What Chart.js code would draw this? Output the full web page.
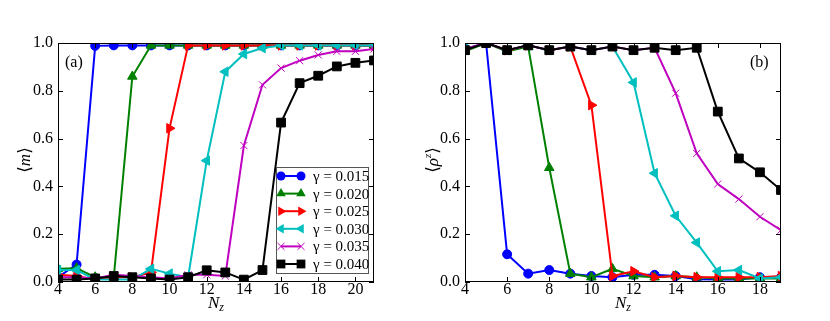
<!DOCTYPE html>
<html>
<head>
<meta charset="utf-8">
<script src="https://cdn.jsdelivr.net/npm/chart.js@4.4.1/dist/chart.umd.min.js"></script>
<style>
body{margin:0;background:#fff;}
#wrap{position:relative;width:830px;height:321px;}
.box{position:absolute;top:0;width:415px;height:321px;}
</style>
</head>
<body>
<div id="wrap">
<div class="box" style="left:0"><canvas id="chartA"></canvas></div>
<div class="box" style="left:415px"><canvas id="chartB"></canvas></div>
</div>
<script>
// data
const gammas = ['0.015', '0.020', '0.025', '0.030', '0.035', '0.040'];
const nzLeft = [4, 5, 6, 7, 8, 9, 10, 11, 12, 13, 14, 15, 16, 17, 18, 19, 20, 21];
const nzRight = [4, 5, 6, 7, 8, 9, 10, 11, 12, 13, 14, 15, 16, 17, 18, 19];
const xTicksLeft = [4, 6, 8, 10, 12, 14, 16, 18, 20];
const xTicksRight = [4, 6, 8, 10, 12, 14, 16, 18];
const yTicks = [0, 0.2, 0.4, 0.6, 0.8, 1.0];

const m015 = [0.02, 0.073, 0.988, 0.99, 0.99, 0.99, 0.99, 0.99, 0.99, 0.99, 0.99, 0.99, 0.99, 0.99, 0.99, 0.99, 0.99, 0.99];
const m020 = [0.055, 0.058, 0.02, 0.02, 0.86, 0.99, 0.99, 0.99, 0.99, 0.99, 0.99, 0.99, 0.99, 0.99, 0.99, 0.99, 0.99, 0.99];
const m025 = [0.03, 0.025, 0.01, 0.02, 0.02, 0.04, 0.643, 0.99, 0.99, 0.99, 0.99, 0.99, 0.99, 0.99, 0.99, 0.99, 0.99, 0.99];
const m030 = [0.05, 0.05, 0.01, 0.01, 0.01, 0.055, 0.035, 0.02, 0.508, 0.88, 0.954, 0.979, 0.99, 0.99, 0.99, 0.99, 0.99, 0.99];
const m035 = [0.02, 0.02, 0.015, 0.03, 0.025, 0.02, 0.015, 0.03, 0.03, 0.025, 0.571, 0.825, 0.895, 0.926, 0.95, 0.965, 0.965, 0.975];
const m040 = [0.01, 0.01, 0.015, 0.025, 0.02, 0.015, 0.01, 0.02, 0.049, 0.04, 0.01, 0.05, 0.667, 0.832, 0.863, 0.902, 0.917, 0.927];

const r015 = [0.975, 1.0, 0.116, 0.035, 0.05, 0.035, 0.025, 0.02, 0.03, 0.03, 0.025, 0.012, 0.01, 0.01, 0.02, 0.02];
const r020 = [0.965, 1.0, 0.965, 0.985, 0.478, 0.035, 0.02, 0.055, 0.025, 0.02, 0.025, 0.02, 0.015, 0.015, 0.015, 0.015];
const r025 = [0.975, 1.0, 0.97, 0.99, 0.97, 0.985, 0.74, 0.025, 0.045, 0.02, 0.025, 0.02, 0.02, 0.02, 0.02, 0.025];
const r030 = [0.975, 1.0, 0.97, 0.99, 0.97, 0.985, 0.97, 0.985, 0.835, 0.455, 0.277, 0.165, 0.045, 0.05, 0.015, 0.02];
const r035 = [0.975, 1.0, 0.97, 0.99, 0.97, 0.985, 0.97, 0.985, 0.97, 0.98, 0.79, 0.538, 0.41, 0.347, 0.273, 0.217];
const r040 = [0.97, 1.0, 0.97, 0.99, 0.97, 0.985, 0.97, 0.985, 0.97, 0.98, 0.97, 0.98, 0.713, 0.517, 0.459, 0.385];

const colors = ['#0000ff', '#008000', '#ff0000', '#00bfbf', '#bf00bf', '#000000'];
const styles = [
  {pointStyle: 'circle', radius: 4.5, rotation: 0, bw: 1},
  {pointStyle: 'triangle', radius: 5.5, rotation: 0, bw: 1},
  {pointStyle: 'triangle', radius: 5.5, rotation: 90, bw: 1},
  {pointStyle: 'triangle', radius: 5.5, rotation: -90, bw: 1},
  {pointStyle: 'crossRot', radius: 5, rotation: 0, bw: 1},
  {pointStyle: 'rect', radius: 6.2, rotation: 0, bw: 1}
];

const serif = '"Liberation Serif", "DejaVu Serif", serif';

function makeSets(xs, series) {
  return series.map(function(vals, i) {
    return {
      label: 'γ = ' + gammas[i],
      data: vals.map(function(v, k) { return {x: xs[k], y: v}; }),
      borderColor: colors[i],
      backgroundColor: colors[i],
      pointBackgroundColor: colors[i],
      pointBorderColor: colors[i],
      borderWidth: 2,
      pointStyle: styles[i].pointStyle,
      pointRadius: styles[i].radius,
      pointRotation: styles[i].rotation,
      pointBorderWidth: styles[i].bw,
      tension: 0,
      clip: 0,
      order: 5 - i
    };
  });
}

function drawMarker(ctx, i, x, y) {
  const s = styles[i];
  const r = s.radius;
  ctx.save();
  ctx.fillStyle = colors[i];
  ctx.strokeStyle = colors[i];
  ctx.lineWidth = s.bw;
  ctx.beginPath();
  if (s.pointStyle === 'circle') {
    ctx.arc(x, y, r, 0, Math.PI * 2);
    ctx.fill();
  } else if (s.pointStyle === 'triangle') {
    let rad = s.rotation * Math.PI / 180;
    for (let k = 0; k < 3; k++) {
      const px = x + Math.sin(rad) * r, py = y - Math.cos(rad) * r;
      if (k === 0) ctx.moveTo(px, py); else ctx.lineTo(px, py);
      rad += 2 * Math.PI / 3;
    }
    ctx.closePath();
    ctx.fill();
  } else if (s.pointStyle === 'crossRot') {
    const d = r * Math.SQRT1_2;
    ctx.moveTo(x - d, y - d); ctx.lineTo(x + d, y + d);
    ctx.moveTo(x - d, y + d); ctx.lineTo(x + d, y - d);
    ctx.stroke();
  } else {
    const d = r * Math.SQRT1_2;
    ctx.rect(x - d, y - d, 2 * d, 2 * d);
    ctx.fill();
  }
  ctx.restore();
}

function drawPieces(ctx, pieces, cx, cy, rotate) {
  ctx.save();
  ctx.translate(cx, cy);
  if (rotate) ctx.rotate(-Math.PI / 2);
  ctx.fillStyle = '#000';
  ctx.textBaseline = 'middle';
  ctx.textAlign = 'left';
  let total = 0;
  pieces.forEach(function(p) { ctx.font = p[1]; total += ctx.measureText(p[0]).width; });
  let x = -total / 2;
  pieces.forEach(function(p) {
    ctx.font = p[1];
    ctx.fillText(p[0], x, p[2] || 0);
    x += ctx.measureText(p[0]).width;
  });
  ctx.restore();
}

const framePlugin = {
  id: 'frame',
  afterDraw(chart, args, opts) {
    const ctx = chart.ctx;
    const a = chart.chartArea;
    const xs = chart.scales.x, ys = chart.scales.y;
    ctx.save();
    ctx.strokeStyle = '#000';
    ctx.lineWidth = 1;
    ctx.strokeRect(a.left + 0.5, a.top + 0.5, a.right - a.left - 1, a.bottom - a.top - 1);
    ctx.beginPath();
    xs.ticks.forEach(function(t) {
      const px = Math.round(xs.getPixelForValue(t.value)) + 0.5;
      ctx.moveTo(px, a.bottom); ctx.lineTo(px, a.bottom - 5);
      ctx.moveTo(px, a.top); ctx.lineTo(px, a.top + 5);
    });
    ys.ticks.forEach(function(t) {
      const py = Math.round(ys.getPixelForValue(t.value)) + 0.5;
      ctx.moveTo(a.left, py); ctx.lineTo(a.left + 5, py);
      ctx.moveTo(a.right, py); ctx.lineTo(a.right - 5, py);
    });
    ctx.stroke();

    ctx.fillStyle = '#000';
    ctx.font = '16px ' + serif;
    ctx.textBaseline = 'middle';
    ctx.textAlign = 'left';
    ctx.fillText(opts.panel, opts.panelX, 63);

    drawPieces(ctx, [['N', 'italic 17px ' + serif, 0], ['z', 'italic 12px ' + serif, 4]], (a.left + a.right) / 2, 304, false);
    drawPieces(ctx, opts.yTitle, opts.yTitleX, 160, true);

    if (opts.legend) {
      const lx = 276, ly = 167, lw = 92, lh = 106;
      ctx.fillStyle = '#fff';
      ctx.fillRect(lx, ly, lw, lh);
      ctx.strokeStyle = '#555';
      ctx.strokeRect(lx + 0.5, ly + 0.5, lw, lh);
      gammas.forEach(function(g, i) {
        const yy = 176 + i * 17.6;
        ctx.strokeStyle = colors[i];
        ctx.lineWidth = 2;
        ctx.beginPath();
        ctx.moveTo(281, yy); ctx.lineTo(301, yy);
        ctx.stroke();
        drawMarker(ctx, i, 281, yy);
        drawMarker(ctx, i, 301, yy);
        ctx.fillStyle = '#000';
        ctx.font = '15px ' + serif;
        ctx.textBaseline = 'middle';
        ctx.fillText('γ = ' + g, 313, yy + 1);
      });
    }
    ctx.restore();
  }
};

function makeChart(id, xs, series, xMax, xTicks, yW, padRight, opts) {
  const ctx = document.getElementById(id).getContext('2d');
  return new Chart(ctx, {
    type: 'line',
    data: {datasets: makeSets(xs, series)},
    plugins: [framePlugin],
    options: {
      responsive: true,
      maintainAspectRatio: false,
      animation: false,
      layout: {padding: {left: 0, top: 43, right: padRight, bottom: 0}},
      plugins: {legend: {display: false}, tooltip: {enabled: false}, frame: opts},
      scales: {
        x: {
          type: 'linear', min: 4, max: xMax,
          afterBuildTicks: function(s) { s.ticks = xTicks.map(function(v) { return {value: v}; }); },
          afterFit: function(s) { s.height = 39; },
          grid: {display: false, drawTicks: false},
          border: {display: false},
          ticks: {padding: 0, color: '#000', font: {family: serif, size: 16, lineHeight: 1}, maxRotation: 0}
        },
        y: {
          min: 0, max: 1,
          afterBuildTicks: function(s) { s.ticks = yTicks.map(function(v) { return {value: v}; }); },
          afterFit: function(s) { s.width = yW; },
          grid: {display: false, drawTicks: false},
          border: {display: false},
          ticks: {padding: 5, color: '#000', font: {family: serif, size: 16},
            callback: function(v) { return Number(v).toFixed(1); }}
        }
      }
    }
  });
}

function loadCharts() {
  makeChart('chartA', nzLeft, [m015, m020, m025, m030, m035, m040], 21, xTicksLeft, 58, 41, {
    panel: '(a)', panelX: 65, yTitleX: 26, legend: true,
    yTitle: [['⟨', '17px ' + serif], ['m', 'italic 17px ' + serif], ['⟩', '17px ' + serif]]
  });
  makeChart('chartB', nzRight, [r015, r020, r025, r030, r035, r040], 19, xTicksRight, 50, 49, {
    panel: '(b)', panelX: 335, yTitleX: 19, legend: false,
    yTitle: [['⟨', '17px ' + serif], ['ρ', 'italic 17px ' + serif], ['z', 'italic 11px ' + serif, -6], ['⟩', '17px ' + serif]]
  });
}
document.addEventListener('DOMContentLoaded', loadCharts);
</script>
</body>
</html>
